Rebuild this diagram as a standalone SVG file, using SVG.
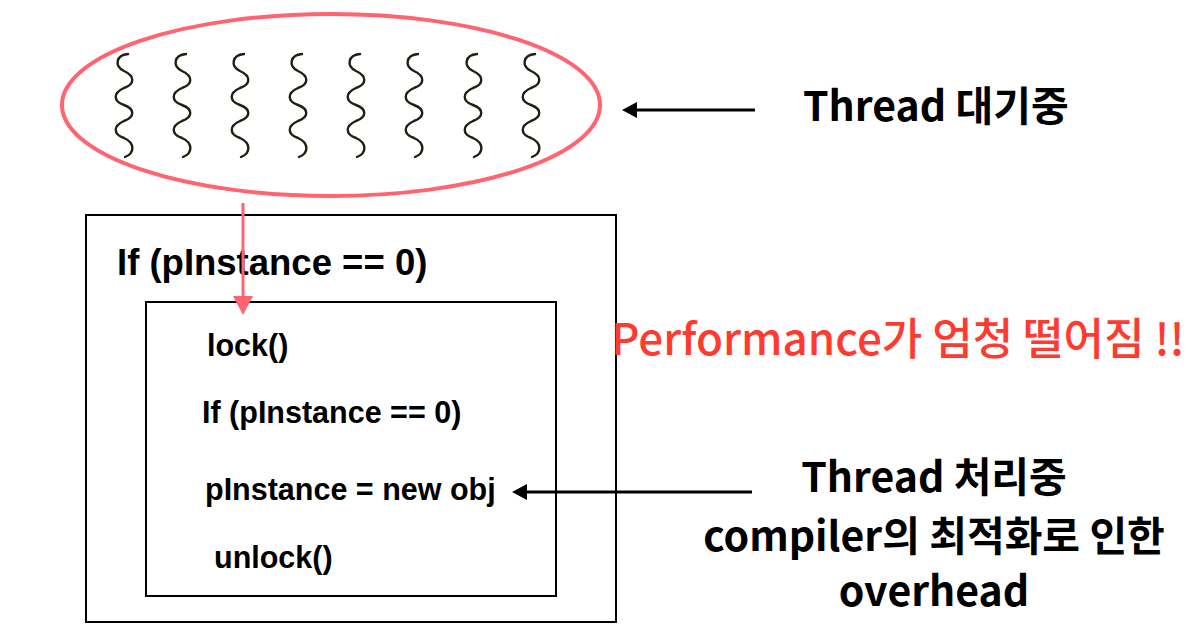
<svg xmlns="http://www.w3.org/2000/svg" width="1198" height="644" viewBox="0 0 1198 644">
<defs>
<style>
.b{font-family:"Liberation Sans","Noto Sans CJK KR",sans-serif;font-weight:bold;fill:#000}
.k{font-family:"Noto Sans CJK KR","Liberation Sans",sans-serif;font-weight:bold;fill:#000;font-size:41px}
.box{fill:none;stroke:#000;stroke-width:2}
.sq{fill:none;stroke:#1c2212;stroke-width:2.4;stroke-linecap:round}
</style>
<path id="w" d="M4,54 C-8,55 -10,66 0,71 C11,76 11,84 0,88 C-11,93 -11,101 0,105 C11,109 11,117 0,121 C-11,126 -11,134 0,138 C11,143 11,153 1,157"/>
</defs>
<rect width="1198" height="644" fill="#fff"/>
<g id="waiting">
<ellipse cx="331" cy="105" rx="269" ry="91" fill="none" stroke="#ff6470" stroke-width="4"/>
<use href="#w" class="sq" x="124"/>
<use href="#w" class="sq" x="182"/>
<use href="#w" class="sq" x="240"/>
<use href="#w" class="sq" x="298"/>
<use href="#w" class="sq" x="356"/>
<use href="#w" class="sq" x="414"/>
<use href="#w" class="sq" x="473"/>
<use href="#w" class="sq" x="531"/>
</g>
<g id="outer">
<rect class="box" x="86" y="215" width="530" height="407"/>
<text class="b" x="117" y="275" font-size="36.5">If (pInstance == 0)</text>
</g>
<g id="inner">
<rect class="box" x="146" y="302" width="410" height="294"/>
<text class="b" x="207" y="356" font-size="30.5">lock()</text>
<text class="b" x="202" y="423" font-size="30.5">If (pInstance == 0)</text>
<text class="b" x="205" y="500" font-size="30.5">pInstance = new obj</text>
<text class="b" x="214" y="568" font-size="30.5">unlock()</text>
</g>
<g id="labels">
<text class="k" x="803" y="121">Thread 대기중</text>
<text x="611" y="355" font-size="44" font-family="Noto Sans CJK KR, sans-serif" font-weight="500" fill="#ff3b30">Performance가 엄청 떨어짐 !!</text>
<g text-anchor="middle">
<text class="k" x="934" y="492">Thread 처리중</text>
<text class="k" x="934" y="551">compiler의 최적화로 인한</text>
<text class="k" x="934" y="606">overhead</text>
</g>
</g>
<g id="connectors">
<line x1="243" y1="203" x2="243" y2="297" stroke="#ff6470" stroke-width="3"/>
<path d="M233,296 L253,296 L243,315 Z" fill="#ff6470"/>
<line x1="755" y1="110" x2="636" y2="110" stroke="#000" stroke-width="3"/>
<path d="M637,102 L637,118 L622,110 Z" fill="#000"/>
<line x1="752" y1="492" x2="526" y2="492" stroke="#000" stroke-width="3"/>
<path d="M527,484 L527,500 L512,492 Z" fill="#000"/>
</g>
</svg>
